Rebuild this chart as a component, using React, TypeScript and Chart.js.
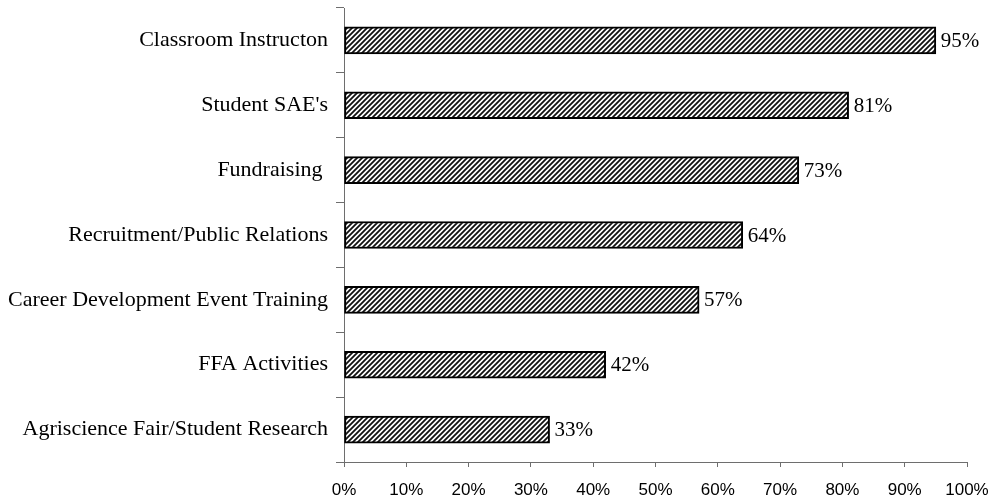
import React, { useEffect, useRef } from "react";
import { Chart, registerables } from "chart.js";

Chart.register(...registerables);

const categories = [
  "Classroom Instructon",
  "Student SAE's",
  "Fundraising ",
  "Recruitment/Public Relations",
  "Career Development Event Training",
  "FFA Activities",
  "Agriscience Fair/Student Research",
];
const values = [95, 81, 73, 64, 57, 42, 33];
const xTicks = [0, 10, 20, 30, 40, 50, 60, 70, 80, 90, 100];

function makePattern(): CanvasPattern | string {
  const n = 5;
  const c = document.createElement("canvas");
  c.width = n;
  c.height = n;
  const ctx = c.getContext("2d");
  if (!ctx) return "#777";
  ctx.fillStyle = "#ffffff";
  ctx.fillRect(0, 0, n, n);
  ctx.strokeStyle = "#111111";
  ctx.lineWidth = 1.8;
  ctx.beginPath();
  for (const off of [-n, 0, n]) {
    ctx.moveTo(-1 + off, n + 1);
    ctx.lineTo(n + 1 + off, -1);
  }
  ctx.stroke();
  const p = ctx.createPattern(c, "repeat");
  return p || "#777";
}

const valueLabels = {
  id: "valueLabels",
  afterDatasetsDraw(chart: any) {
    const ctx = chart.ctx;
    const meta = chart.getDatasetMeta(0);
    ctx.save();
    ctx.font = '21px "Liberation Serif", "Times New Roman", serif';
    ctx.fillStyle = "#000";
    ctx.textAlign = "left";
    ctx.textBaseline = "middle";
    meta.data.forEach((el: any, i: number) => {
      const v = chart.data.datasets[0].data[i];
      ctx.fillText(v + "%", el.x + 5, el.y + 1);
    });
    ctx.restore();
  },
};

export default function App() {
  const ref = useRef<HTMLCanvasElement | null>(null);
  useEffect(() => {
    if (!ref.current) return;
    const axisColor = "#6e6e6e";
    const chart = new Chart(ref.current, {
      type: "bar",
      data: {
        labels: categories,
        datasets: [
          {
            data: values,
            backgroundColor: makePattern() as any,
            borderColor: "#000",
            borderWidth: 2,
            borderSkipped: false,
            barThickness: 27,
          },
        ],
      },
      options: {
        indexAxis: "y",
        animation: false,
        responsive: true,
        maintainAspectRatio: false,
        layout: { padding: { left: 0, right: 26, top: 8, bottom: 0 } },
        plugins: {
          legend: { display: false },
          tooltip: { enabled: false },
        },
        scales: {
          x: {
            min: 0,
            max: 100,
            afterBuildTicks: (s: any) => {
              s.ticks = xTicks.map((v) => ({ value: v }));
            },
            afterFit: (s: any) => {
              s.height = 40;
              s.paddingLeft = 0;
              s.paddingRight = 0;
            },
            ticks: {
              callback: (v: any) => v + "%",
              color: "#000",
              font: { family: '"Liberation Sans", Arial, sans-serif', size: 17 },
              padding: 13,
              maxRotation: 0,
            },
            grid: {
              drawOnChartArea: false,
              drawTicks: true,
              tickLength: 5,
              color: axisColor,
            },
            border: { display: true, color: axisColor, width: 1 },
          },
          y: {
            afterFit: (s: any) => {
              s.width = 344;
              s.paddingTop = 0;
              s.paddingBottom = 0;
            },
            ticks: {
              color: "#000",
              font: { family: '"Liberation Serif", "Times New Roman", serif', size: 22 },
              padding: 8,
            },
            grid: {
              drawOnChartArea: false,
              drawTicks: true,
              tickLength: 8,
              color: axisColor,
            },
            border: { display: true, color: axisColor, width: 1 },
          },
        },
      },
      plugins: [valueLabels],
    });
    return () => chart.destroy();
  }, []);
  return (
    <div style={{ position: "absolute", left: 0, top: 0, width: 993, height: 502, background: "#fff" }}>
      <canvas ref={ref} />
    </div>
  );
}
